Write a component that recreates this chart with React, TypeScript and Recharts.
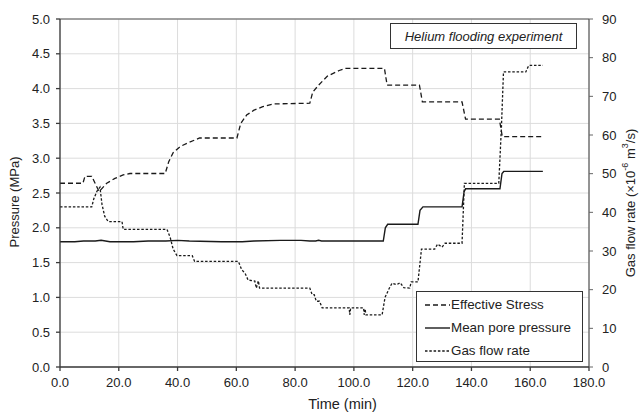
import { LineChart, Line, XAxis, YAxis, CartesianGrid, ReferenceLine, Label } from "recharts";

const FONT = "'Liberation Sans', Arial, Helvetica, sans-serif";
const INK = "#222";
const AXIS = "#3a3a3a";

const timeTicks = [0, 20, 40, 60, 80, 100, 120, 140, 160, 180];
const pressureTicks = [0, 0.5, 1, 1.5, 2, 2.5, 3, 3.5, 4, 4.5, 5];
const flowTicks = [0, 10, 20, 30, 40, 50, 60, 70, 80, 90];

// [time (min), pressure (MPa)]
const effectiveStress: [number, number][] = [
  [0, 2.64], [7.8, 2.64], [8.5, 2.74], [10.8, 2.74], [13.3, 2.52], [15.9, 2.64],
  [18.7, 2.71], [21.5, 2.76], [23.8, 2.78], [35.8, 2.78], [37, 2.95], [38.5, 3.08],
  [41, 3.17], [43.5, 3.22], [47.5, 3.29], [60.2, 3.29], [61.5, 3.5], [63.5, 3.62],
  [66, 3.69], [69, 3.74], [72.5, 3.78], [85, 3.79], [86, 3.95], [88, 4.05],
  [91, 4.18], [95, 4.26], [97, 4.29], [110.4, 4.29], [111.3, 4.05], [122.3, 4.05],
  [123.3, 3.81], [136.8, 3.81], [138, 3.56], [149.5, 3.56], [150.5, 3.31], [164.3, 3.31],
];

// [time (min), pressure (MPa)]
const meanPorePressure: [number, number][] = [
  [0, 1.8], [5, 1.8], [8, 1.81], [12, 1.81], [14, 1.82], [17, 1.8], [25, 1.8],
  [30, 1.81], [36, 1.81], [40, 1.82], [44, 1.81], [55, 1.8], [62, 1.8], [66, 1.81],
  [75, 1.82], [82, 1.82], [85, 1.81], [87, 1.81], [88, 1.82], [89, 1.81], [100, 1.81],
  [110, 1.81], [110.7, 2.0], [111.5, 2.05], [121.8, 2.05], [122.5, 2.25], [123.5, 2.3],
  [136.8, 2.3], [137.5, 2.52], [138, 2.56], [149.7, 2.56], [150.4, 2.78], [151, 2.81],
  [164.3, 2.81],
];

// [time (min), gas flow rate (x10^-6 m3/s)]
const gasFlowRate: [number, number][] = [
  [0, 41.4], [10.8, 41.4], [11.5, 43.5], [12.6, 45.5], [13.6, 46.5], [14.3, 42],
  [15.2, 39], [16.4, 37.6], [21.1, 37.6], [21.5, 35.6], [36.4, 35.6], [37.5, 33.5],
  [38.5, 30.5], [39.8, 28.8], [45, 28.8], [45.8, 27.3], [60.7, 27.3], [61.8, 25.2],
  [63, 24.2], [64, 22.5], [66.3, 22.2], [66.8, 20.4], [67.5, 22.3], [67.9, 20.4],
  [85, 20.4], [85.8, 18.7], [86.5, 18.7], [87.2, 17], [88.3, 17], [89.2, 15.3],
  [98.4, 15.3], [98.6, 13.5], [98.9, 15.3], [103.3, 15.3], [103.5, 13.5], [103.8, 15],
  [104.1, 13.5], [109.6, 13.5], [110.6, 18], [112, 20.3], [113, 21.7], [114.5, 21.3],
  [115.8, 21.8], [117, 20.5], [119, 20.4], [119.5, 22], [121.8, 22], [123, 30.5],
  [127.5, 30.5], [128.5, 31.8], [130, 31], [131, 32], [136.8, 32], [137.6, 47.5],
  [149.3, 47.5], [150.2, 62], [150.9, 76.3], [158.5, 76.3], [159.2, 77.5], [159.6, 78],
  [164.3, 78],
];

const toRows = (pts: [number, number][]) => pts.map(([t, v]) => ({ t, v }));

const tickStyle = { fontSize: 13, fill: INK, fontFamily: FONT };

function LeftTitle(props: any) {
  const vb = props.viewBox || { x: 0, y: 0, width: 60, height: 348 };
  const x = vb.x + 14;
  const y = vb.y + vb.height / 2 + 9;
  return (
    <text x={x} y={y} transform={`rotate(-90 ${x} ${y})`} textAnchor="middle"
      dominantBaseline="central" fontSize={13} fill={INK} fontFamily={FONT}>
      Pressure (MPa)
    </text>
  );
}

function RightTitle(props: any) {
  const vb = props.viewBox || { x: 589, y: 19, width: 50, height: 348 };
  const x = vb.x + 41;
  const y = vb.y + vb.height / 2 + 10;
  return (
    <text x={x} y={y} transform={`rotate(-90 ${x} ${y})`} textAnchor="middle"
      dominantBaseline="central" fontSize={13} fill={INK} fontFamily={FONT}>
      Gas flow rate (×10
      <tspan fontSize={9} dy={-5}>-6</tspan>
      <tspan dy={5}> m</tspan>
      <tspan fontSize={9} dy={-5}>3</tspan>
      <tspan dy={5}>/s)</tspan>
    </text>
  );
}

function BottomTitle(props: any) {
  const vb = props.viewBox || { x: 60, y: 367, width: 529, height: 48 };
  return (
    <text x={vb.x + vb.width / 2 + 18} y={vb.y + 42} textAnchor="middle"
      fontSize={14.5} fill={INK} fontFamily={FONT}>
      Time (min)
    </text>
  );
}

const legendItems = [
  { name: "Effective Stress", dash: "5 3", width: 1.3 },
  { name: "Mean pore pressure", dash: undefined, width: 1.4 },
  { name: "Gas flow rate", dash: "2.5 1.8", width: 1.3 },
];

export default function App() {
  return (
    <div style={{ position: "absolute", left: 0, top: 0, width: 639, height: 415, background: "#fff" }}>
      <LineChart width={639} height={415} margin={{ top: 19, right: 0, bottom: 0, left: 0 }}
        style={{ fontFamily: FONT }}>
        <CartesianGrid stroke="#dcdcdc" strokeWidth={1} yAxisId="p" />
        <XAxis dataKey="t" type="number" domain={[0, 180]} ticks={timeTicks} allowDataOverflow
          tickFormatter={(v: number) => v.toFixed(1)} height={48} tickSize={4} tickMargin={7}
          stroke={AXIS} strokeWidth={1.3} tick={tickStyle} tickLine={{ stroke: AXIS }}
          allowDuplicatedCategory={false}>
          <Label content={BottomTitle} />
        </XAxis>
        <YAxis yAxisId="p" orientation="left" domain={[0, 5]} ticks={pressureTicks}
          tickFormatter={(v: number) => v.toFixed(1)} width={60} tickSize={4} tickMargin={6}
          stroke={AXIS} strokeWidth={1.3} tick={tickStyle} tickLine={{ stroke: AXIS }}>
          <Label content={LeftTitle} />
        </YAxis>
        <YAxis yAxisId="q" orientation="right" domain={[0, 90]} ticks={flowTicks} width={50}
          tickSize={4} tickMargin={9} stroke={AXIS} strokeWidth={1} tick={tickStyle}
          tickLine={{ stroke: "#666" }}>
          <Label content={RightTitle} />
        </YAxis>
        <ReferenceLine yAxisId="p" y={5} stroke="#555" strokeWidth={1.2} />
        <Line yAxisId="p" data={toRows(effectiveStress)} dataKey="v" type="linear" stroke="#1a1a1a"
          strokeWidth={1.3} strokeDasharray="5 3" dot={false} activeDot={false} isAnimationActive={false} />
        <Line yAxisId="p" data={toRows(meanPorePressure)} dataKey="v" type="linear" stroke="#1a1a1a"
          strokeWidth={1.4} dot={false} activeDot={false} isAnimationActive={false} />
        <Line yAxisId="q" data={toRows(gasFlowRate)} dataKey="v" type="linear" stroke="#1a1a1a"
          strokeWidth={1.3} strokeDasharray="2.5 1.8" dot={false} activeDot={false} isAnimationActive={false} />
      </LineChart>

      <div style={{
        position: "absolute", left: 390, top: 23, width: 187, height: 26, border: "1px solid #333",
        background: "#fff", boxSizing: "border-box", fontFamily: FONT, fontSize: 13, fontStyle: "italic",
        color: INK, display: "flex", alignItems: "center", justifyContent: "center",
      }}>
        Helium flooding experiment
      </div>

      <div style={{
        position: "absolute", left: 416, top: 291, width: 167, height: 71, border: "1px solid #333",
        background: "#fff", boxSizing: "border-box", fontFamily: FONT, fontSize: 13.4, color: INK,
        paddingTop: 1,
      }}>
        {legendItems.map((it) => (
          <div key={it.name} style={{ display: "flex", alignItems: "center", height: 23 }}>
            <svg width={34} height={10} style={{ marginLeft: 0 }}>
              <line x1={8} y1={5} x2={33} y2={5} stroke="#1a1a1a" strokeWidth={it.width}
                strokeDasharray={it.dash} />
            </svg>
            <span>{it.name}</span>
          </div>
        ))}
      </div>
    </div>
  );
}
